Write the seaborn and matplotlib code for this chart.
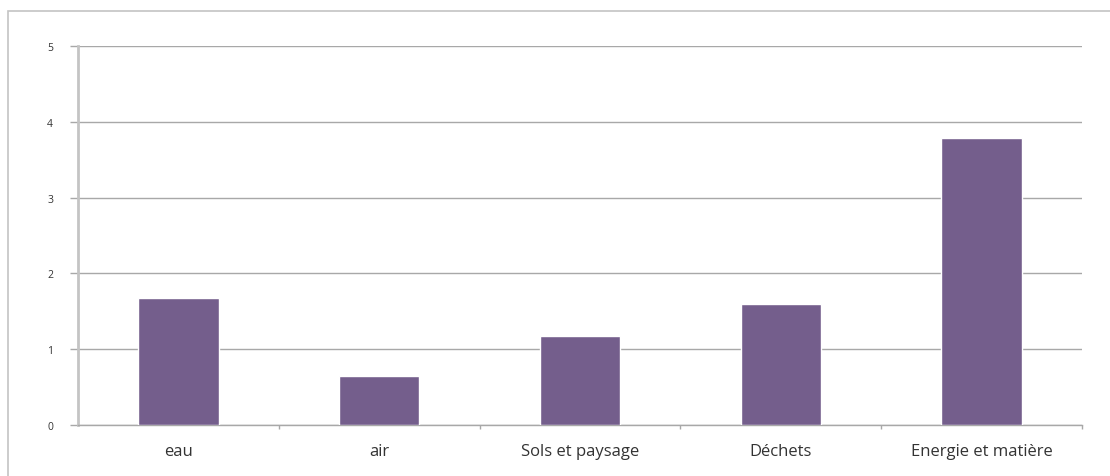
import pandas as pd
import matplotlib.pyplot as plt
import seaborn as sns
from matplotlib.patches import Rectangle

# Values
categories = ['eau', 'air', 'Sols et paysage', 'Déchets', 'Energie et matière']
values = [1.68, 0.65, 1.17, 1.60, 3.78]
y_ticks = [0, 1, 2, 3, 4, 5]

df = pd.DataFrame({'Categorie': categories, 'Valeur': values})

sns.set_style('white')
plt.rcParams['font.family'] = ['Open Sans', 'DejaVu Sans']

fig = plt.figure(figsize=(11.1, 4.77), dpi=100)
ax = fig.add_axes([0.0703, 0.107, 0.9045, 0.7945])

# outer chart frame (left and top visible)
fig.patches.append(Rectangle((0.0072, -0.05), 1.2, 1.025, transform=fig.transFigure,
                             fill=False, edgecolor='#c4c4c4', linewidth=1.2))

sns.barplot(data=df, x='Categorie', y='Valeur', color='#745e8c', width=0.4,
            saturation=1, ax=ax, zorder=3)

ax.set_xlim(-0.5, len(categories) - 0.5)
ax.set_ylim(0, 5)
ax.set_yticks(y_ticks)
ax.set_xlabel('')
ax.set_ylabel('')

# grid and spines
ax.yaxis.grid(True, color='#a8a8a8', linewidth=1.0)
ax.set_axisbelow(True)
for side in ['top', 'right']:
    ax.spines[side].set_visible(False)
ax.spines['left'].set_color('#c4c4c4')
ax.spines['left'].set_linewidth(2.0)
ax.spines['bottom'].set_color('#a8a8a8')
ax.spines['bottom'].set_linewidth(1.0)

ax.tick_params(axis='y', which='major', left=True, length=6, width=1, color='#a8a8a8',
               pad=12, labelsize=7.5, labelcolor='#333333')
ax.tick_params(axis='x', which='major', length=0, pad=13, labelsize=12, labelcolor='#333333')
ax.set_xticks([i + 0.5 for i in range(len(categories))], minor=True)
ax.tick_params(axis='x', which='minor', bottom=True, length=3, width=1, color='#a8a8a8')

fig.savefig('out.png', dpi=100)
